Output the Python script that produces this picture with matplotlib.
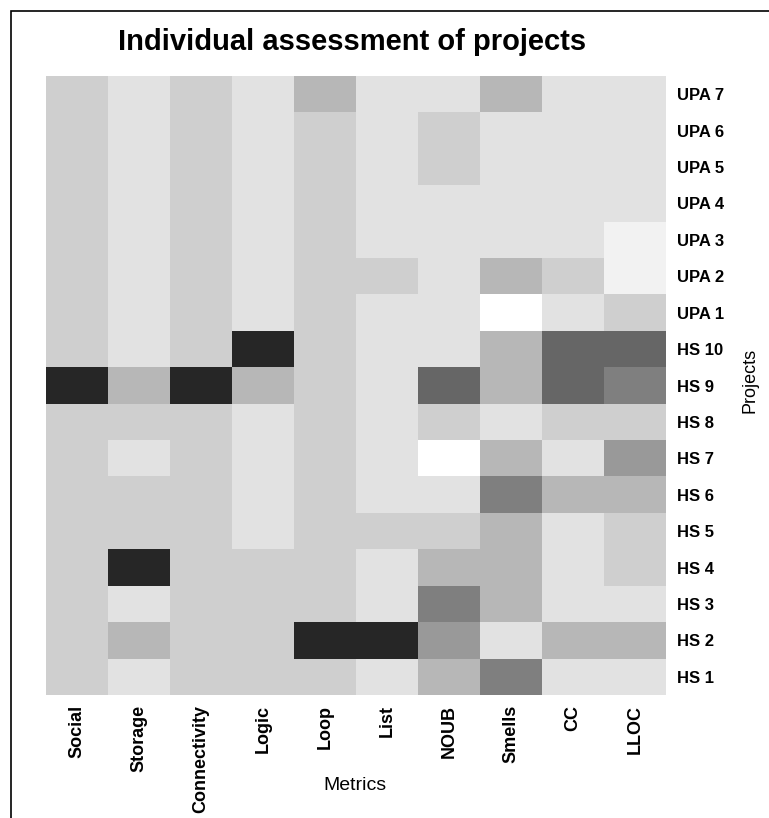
import numpy as np
import matplotlib
matplotlib.use("Agg")
import matplotlib.pyplot as plt
from matplotlib.colors import ListedColormap
from matplotlib.patches import Rectangle

plt.rcParams['font.family'] = ['Liberation Sans', 'DejaVu Sans']

metrics = ["Social", "Storage", "Connectivity", "Logic", "Loop",
           "List", "NOUB", "Smells", "CC", "LLOC"]
projects = ["UPA 7", "UPA 6", "UPA 5", "UPA 4", "UPA 3", "UPA 2", "UPA 1",
            "HS 10", "HS 9", "HS 8", "HS 7", "HS 6", "HS 5", "HS 4",
            "HS 3", "HS 2", "HS 1"]

# shade level of each cell (0 = white ... 8 = darkest), rows top to bottom
levels = [
    [3, 2, 3, 2, 4, 2, 2, 4, 2, 2],  # UPA 7
    [3, 2, 3, 2, 3, 2, 3, 2, 2, 2],  # UPA 6
    [3, 2, 3, 2, 3, 2, 3, 2, 2, 2],  # UPA 5
    [3, 2, 3, 2, 3, 2, 2, 2, 2, 2],  # UPA 4
    [3, 2, 3, 2, 3, 2, 2, 2, 2, 1],  # UPA 3
    [3, 2, 3, 2, 3, 3, 2, 4, 3, 1],  # UPA 2
    [3, 2, 3, 2, 3, 2, 2, 0, 2, 3],  # UPA 1
    [3, 2, 3, 8, 3, 2, 2, 4, 7, 7],  # HS 10
    [8, 4, 8, 4, 3, 2, 7, 4, 7, 6],  # HS 9
    [3, 3, 3, 2, 3, 2, 3, 2, 3, 3],  # HS 8
    [3, 2, 3, 2, 3, 2, 0, 4, 2, 5],  # HS 7
    [3, 3, 3, 2, 3, 2, 2, 6, 4, 4],  # HS 6
    [3, 3, 3, 2, 3, 3, 3, 4, 2, 3],  # HS 5
    [3, 8, 3, 3, 3, 2, 4, 4, 2, 3],  # HS 4
    [3, 2, 3, 3, 3, 2, 6, 4, 2, 2],  # HS 3
    [3, 4, 3, 3, 8, 8, 5, 2, 4, 4],  # HS 2
    [3, 2, 3, 3, 3, 2, 4, 6, 2, 2],  # HS 1
]

grays = ["#ffffff", "#f2f2f2", "#e2e2e2", "#cfcfcf", "#b7b7b7",
         "#999999", "#7f7f7f", "#666666", "#262626"]
cmap = ListedColormap(grays)

W, H = 769, 818
fig = plt.figure(figsize=(W / 100, H / 100), dpi=100)

# outer frame (cut off at right/bottom)
fig.add_artist(Rectangle((11 / W, -0.05), 1.2, 1 - 11 / H + 0.05,
                         transform=fig.transFigure, fill=False,
                         edgecolor="black", linewidth=1.2))

ax = fig.add_axes([46 / W, 1 - 695 / H, 620 / W, 619 / H])
ax.imshow(np.array(levels), cmap=cmap, vmin=-0.5, vmax=8.5,
          aspect="auto", interpolation="nearest")

ax.set_xticks(range(len(metrics)))
ax.set_xticklabels(metrics, rotation=90, fontsize=13, fontweight="bold",
                   va="top")
ax.set_yticks(range(len(projects)))
ax.set_yticklabels(projects, fontsize=12, fontweight="bold")
ax.yaxis.tick_right()
ax.tick_params(axis="x", length=0, pad=7)
ax.tick_params(axis="y", length=0, pad=8)
for s in ax.spines.values():
    s.set_visible(False)

fig.text(355 / W, 1 - 785 / H, "Metrics", ha="center", va="center",
         fontsize=14)
fig.text(750 / W, 1 - 380 / H, "Projects", ha="center", va="center",
         rotation=90, fontsize=13)
fig.text(352 / W, 1 - 42 / H, "Individual assessment of projects",
         ha="center", va="center", fontsize=21, fontweight="bold")

fig.savefig("out.png", dpi=100)
